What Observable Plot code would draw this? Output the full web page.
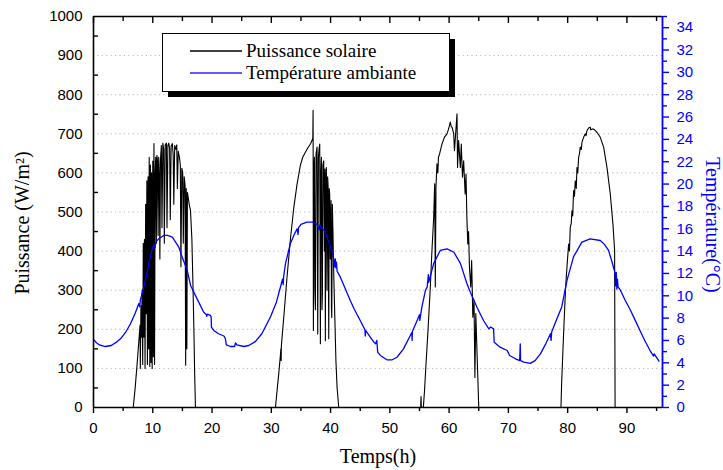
<!DOCTYPE html>
<html>
<head>
<meta charset="utf-8">
<script src="https://cdn.jsdelivr.net/npm/d3@7"></script>
<script src="https://cdn.jsdelivr.net/npm/@observablehq/plot@0.6"></script>
<style>
  body { margin: 0; background: #fff; }
  #chart { position: relative; width: 723px; height: 470px; }
</style>
</head>
<body>
<div id="chart"></div>
<script>
// ---- Axis definitions ----
const xDomain = [0, 96];
const yDomain = [0, 1000];
const tempDomain = [0, 35];
const xTicks = [0, 10, 20, 30, 40, 50, 60, 70, 80, 90];
const xMinor = [5, 15, 25, 35, 45, 55, 65, 75, 85, 95];
const yTicks = [0, 100, 200, 300, 400, 500, 600, 700, 800, 900, 1000];
const yMinor = [50, 150, 250, 350, 450, 550, 650, 750, 850, 950];
const tempTicks = [0, 2, 4, 6, 8, 10, 12, 14, 16, 18, 20, 22, 24, 26, 28, 30, 32, 34];
const tempMinor = [1, 3, 5, 7, 9, 11, 13, 15, 17, 19, 21, 23, 25, 27, 29, 31, 33, 35];

// ---- Series labels ----
const seriesNames = ["Puissance solaire", "Température ambiante"];
const xTitle = "Temps(h)";
const yTitle = "Puissance (W/m²)";
const y2Title = "Température(°C)";

// ---- Puissance solaire [heure, W/m²] ----
const powerDay1 = [[0,0],[6.7,0],[7.0,45],[7.3,100],[7.6,160],[7.85,210],[7.9,100],[8.0,260],[8.1,180],[8.2,300],[8.3,110],[8.4,420],[8.5,180],[8.6,430],[8.7,100],[8.8,520],[8.9,240],[9.0,580],[9.1,110],[9.2,590],[9.3,150],[9.4,640],[9.5,105],[9.6,620],[9.7,115],[9.8,600],[9.9,100],[10.0,630],[10.1,130],[10.2,675],[10.3,110],[10.4,600],[10.5,640],[10.6,420],[10.7,645],[10.8,630],[10.9,440],[11.0,640],[11.1,600],[11.2,380],[11.3,635],[11.45,670],[11.55,460],[11.7,676],[11.85,660],[11.95,420],[12.1,672],[12.3,676],[12.4,460],[12.55,670],[12.7,676],[12.85,662],[12.95,480],[13.1,668],[13.3,675],[13.45,645],[13.55,520],[13.7,670],[13.9,660],[14.05,672],[14.15,560],[14.3,655],[14.5,640],[14.65,620],[14.75,360],[14.9,612],[15.05,600],[15.15,420],[15.3,590],[15.45,570],[15.55,108],[15.65,560],[15.75,150],[15.85,550],[16.0,535],[16.2,515],[16.36,505],[16.6,430],[16.8,300],[16.95,190],[17.05,100],[17.2,0]];
const powerDay2 = [[30.7,0],[30.97,43],[31.25,86],[31.5,128],[31.62,150],[31.66,120],[31.7,158],[32.1,231],[32.65,333],[33.2,427],[33.8,512],[34.35,572],[34.9,619],[35.3,640],[35.75,653],[36.2,665],[36.6,674],[36.9,684],[37.0,690],[37.05,760],[37.1,197],[37.2,600],[37.27,640],[37.35,300],[37.44,250],[37.55,650],[37.72,666],[37.83,188],[37.95,640],[38.05,660],[38.17,674],[38.28,163],[38.36,600],[38.45,640],[38.55,250],[38.62,290],[38.7,620],[38.84,631],[38.95,400],[39.05,610],[39.12,171],[39.2,580],[39.29,614],[39.4,300],[39.5,590],[39.57,572],[39.69,176],[39.77,560],[39.85,546],[39.95,380],[40.08,529],[40.15,250],[40.2,230],[40.3,520],[40.4,450],[40.55,330],[40.7,240],[40.9,120],[41.1,50],[41.38,0]];
const powerDay3 = [[55.2,0],[55.26,28],[55.32,0],[55.65,0],[55.85,43],[56.07,103],[56.4,188],[56.83,308],[57.1,401],[57.4,487],[57.56,572],[57.67,308],[57.78,563],[57.95,623],[58.1,600],[58.2,640],[58.4,649],[58.8,674],[59.2,691],[59.64,700],[59.9,712],[60.2,730],[60.35,718],[60.5,717],[60.77,700],[60.9,657],[61.1,700],[61.33,751],[61.42,614],[61.6,683],[61.89,614],[62.05,674],[62.25,589],[62.45,631],[62.7,546],[62.85,597],[62.99,487],[63.15,418],[63.28,450],[63.43,359],[63.65,308],[63.8,376],[64.0,231],[64.2,274],[64.35,77],[64.5,240],[64.75,120],[65.0,0]];
const powerDay4 = [[78.87,0],[78.98,60],[79.2,146],[79.43,231],[79.66,308],[79.88,359],[80.16,418],[80.3,400],[80.44,461],[80.6,470],[80.72,503],[80.85,490],[81.0,555],[81.15,540],[81.28,580],[81.45,560],[81.57,614],[81.7,600],[81.85,640],[82.0,650],[82.13,666],[82.3,660],[82.41,678],[82.69,691],[82.97,700],[83.1,695],[83.25,708],[83.53,715],[83.81,717],[83.9,710],[84.1,712],[84.38,712],[84.66,708],[84.94,704],[85.5,691],[86.07,666],[86.63,614],[87.19,546],[87.64,469],[87.92,402],[87.96,200],[88.0,0],[96,0]];

// ---- Température ambiante [heure, °C] ----
const temperature = [[0,6.1],[0.5,5.8],[1,5.6],[2,5.46],[3,5.55],[4,5.9],[4.55,6.15],[5.5,6.8],[6.24,7.5],[7,8.4],[7.65,9.3],[7.8,9.0],[7.9,9.6],[8.5,10.8],[9,12.0],[9.33,12.9],[9.8,14.0],[10.2,14.65],[10.4,14.3],[10.5,14.8],[11,15.1],[11.86,15.4],[12.5,15.4],[13.3,15.25],[14.4,14.35],[15,13.4],[15.8,12.3],[16.4,10.9],[17.5,9.7],[18.6,8.53],[19.05,8.3],[19.1,8.15],[19.2,8.35],[19.73,8.24],[19.85,8.1],[19.9,7.19],[20.3,6.9],[21.1,6.6],[22.0,6.4],[22.26,6.15],[22.4,5.6],[23.1,5.46],[23.8,5.46],[23.95,5.79],[24.2,5.6],[25.35,5.46],[26.2,5.55],[27.3,5.9],[28.4,6.6],[29.85,8.1],[30.86,9.43],[31.5,10.7],[31.9,11.5],[32.0,11.0],[32.1,11.8],[32.4,12.9],[33.2,14.65],[33.8,15.4],[34.35,16.0],[34.5,15.5],[34.6,16.1],[35,16.4],[36,16.6],[37,16.6],[37.7,16.4],[38.1,15.9],[38.2,16.35],[38.5,16.1],[39.1,15.7],[40,14.35],[40.5,13.4],[40.7,12.6],[40.8,13.3],[40.9,12.5],[41.0,13.0],[41.1,12.2],[41.65,11.67],[42.5,10.6],[43.3,9.6],[44,8.8],[45,7.79],[45.8,6.95],[45.85,6.4],[45.9,6.9],[46.7,6.3],[47.3,5.85],[47.6,5.7],[47.8,6.0],[47.95,4.95],[48.4,4.66],[49.5,4.27],[50.4,4.27],[51.2,4.5],[52.3,5.25],[53.45,6.45],[53.7,6.7],[53.75,6.0],[53.8,6.8],[54.6,7.79],[55.0,8.3],[55.05,7.8],[55.4,8.98],[56.0,10.47],[56.3,10.8],[56.5,11.9],[56.55,11.2],[57.4,12.9],[58.5,14.06],[59.65,14.2],[60.8,13.9],[61.9,12.9],[63.0,11.1],[63.6,10.3],[64.7,8.98],[65.8,7.79],[66.7,7.04],[67.0,7.2],[67.5,7.04],[67.6,5.85],[68.6,5.4],[69.8,5.1],[70.2,4.66],[71.2,4.36],[71.9,4.2],[72.0,5.7],[72.05,4.2],[72.6,4.06],[73.7,3.95],[74.5,4.2],[75.4,4.8],[76.3,5.7],[77.1,6.6],[77.2,6.0],[77.3,6.75],[78.0,7.7],[79.0,9.0],[79.9,11.4],[81.0,13.5],[82.4,14.8],[83.8,15.1],[85.5,14.95],[86.2,14.6],[86.9,14.06],[87.5,13.0],[88.0,12.0],[88.1,10.9],[88.2,12.1],[88.3,10.6],[88.4,11.5],[88.5,10.8],[88.9,10.5],[89.7,9.6],[90.6,8.7],[91.4,7.8],[92.2,6.9],[93.0,6.0],[93.9,5.1],[94.5,4.6],[94.6,4.8],[95.4,4.15]];

// ---- Build tables ----
const blue = "#0000ff";
const k = yDomain[1] / tempDomain[1];
const toY = c => c * k;
const powerData = [...powerDay1, ...powerDay2, ...powerDay3, ...powerDay4].map(([t, p]) => ({t, p}));
const tempData = temperature.map(([t, c]) => ({t, y: toY(c)}));
const blank = () => "";
const serif = "'Liberation Serif', 'Times New Roman', serif";

const plot = Plot.plot({
  width: 723,
  height: 470,
  marginLeft: 93,
  marginRight: 61,
  marginTop: 16,
  marginBottom: 63,
  x: {domain: xDomain, label: null},
  y: {domain: yDomain, label: null},
  style: {fontFamily: "'Liberation Sans', Arial, sans-serif", fontSize: "15px", background: "#fff", color: "#000"},
  marks: [
    Plot.ruleY(yTicks.filter(v => v > yDomain[0] && v < yDomain[1]), {stroke: "#b4b4b4", strokeDasharray: "1.2,3.2", strokeWidth: 1}),
    Plot.line(powerData, {x: "t", y: "p", stroke: "#000", strokeWidth: 1.1, curve: "linear"}),
    Plot.line(tempData, {x: "t", y: "y", stroke: blue, strokeWidth: 1.3, curve: "linear"}),
    // frame
    Plot.ruleY([yDomain[0]], {stroke: "#000", strokeWidth: 1.6}),
    Plot.ruleY([yDomain[1]], {stroke: "#000", strokeWidth: 1.6}),
    Plot.ruleX([xDomain[0]], {stroke: "#000", strokeWidth: 1.6}),
    Plot.ruleX([xDomain[1]], {stroke: blue, strokeWidth: 1.8}),
    // bottom axis
    Plot.axisX(xTicks, {anchor: "bottom", tickSize: 6, tickPadding: 9, strokeWidth: 1.4, tickFormat: d => String(d), label: null}),
    Plot.axisX(xMinor, {anchor: "bottom", tickSize: 4, tickFormat: blank, strokeWidth: 1.4, label: null}),
    // top inward ticks
    Plot.axisX(xTicks, {anchor: "top", tickSize: -6, tickFormat: blank, strokeWidth: 1.4, label: null}),
    Plot.axisX(xMinor, {anchor: "top", tickSize: -4, tickFormat: blank, strokeWidth: 1.4, label: null}),
    // left axis
    Plot.axisY(yTicks, {anchor: "left", tickSize: 0, tickPadding: 11, tickFormat: d => String(d), label: null}),
    Plot.axisY(yMinor, {anchor: "left", tickSize: -5, tickFormat: blank, strokeWidth: 1.4, label: null}),
    // right temperature axis
    Plot.axisY(tempTicks.map(toY), {anchor: "right", tickSize: 6, tickPadding: 8, color: blue, strokeWidth: 1.4, tickFormat: d => String(Math.round(d / k)), label: null}),
    Plot.axisY(tempMinor.map(toY), {anchor: "right", tickSize: 4, tickFormat: blank, stroke: blue, strokeWidth: 1.4, label: null}),
    // titles
    Plot.text([xTitle], {frameAnchor: "bottom", textAnchor: "middle", lineAnchor: "middle", dy: 49, fontFamily: serif, fontSize: 20, fill: "#000"}),
    Plot.text([yTitle], {frameAnchor: "left", textAnchor: "middle", lineAnchor: "middle", rotate: -90, dx: -71, dy: 11, fontFamily: serif, fontSize: 20, fill: "#000"}),
    Plot.text([y2Title], {frameAnchor: "right", textAnchor: "middle", lineAnchor: "middle", rotate: 90, dx: 50, dy: 13, fontFamily: serif, fontSize: 20, fill: blue})
  ]
});

document.getElementById("chart").append(plot);

// ---- Legend (boxed, with drop shadow) ----
const svg = d3.select(plot);
const lg = svg.append("g")
  .attr("font-family", serif)
  .attr("font-size", 19)
  .attr("text-anchor", "start");
lg.append("rect").attr("x", 168).attr("y", 39).attr("width", 287).attr("height", 58).attr("fill", "#000");
lg.append("rect").attr("x", 162.5).attr("y", 33.5).attr("width", 287).attr("height", 58).attr("fill", "#fff").attr("stroke", "#000").attr("stroke-width", 1);
const legendColors = ["#000", "#2a2aff"];
seriesNames.forEach((name, i) => {
  const cy = 51 + i * 22;
  lg.append("rect").attr("x", 190).attr("y", cy - 0.75).attr("width", 52).attr("height", 1.5).attr("fill", legendColors[i]).attr("stroke", "none");
  lg.append("text").attr("x", 246).attr("y", cy + 6).attr("fill", "#000").attr("text-anchor", "start").text(name);
});
</script>
</body>
</html>
